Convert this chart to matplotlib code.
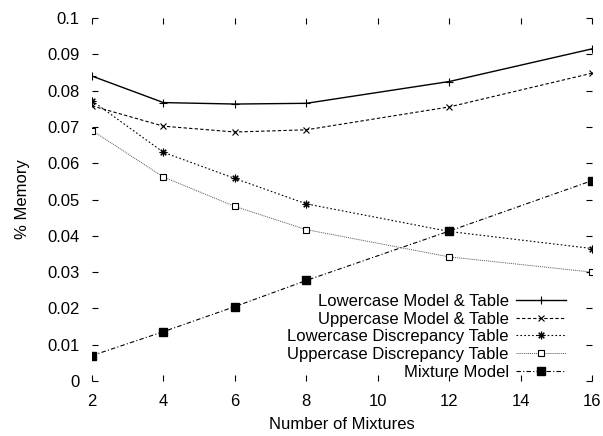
import matplotlib
matplotlib.use("Agg")
import matplotlib.pyplot as plt

plt.rcParams['font.family'] = ['Liberation Sans', 'DejaVu Sans']

mixtures = [2, 4, 6, 8, 12, 16]

lower_model = [0.0840, 0.0767, 0.0763, 0.0765, 0.0825, 0.0915]
upper_model = [0.0758, 0.0702, 0.0686, 0.0692, 0.0755, 0.0848]
lower_disc = [0.0772, 0.0630, 0.0558, 0.0488, 0.0412, 0.0365]
upper_disc = [0.0690, 0.0562, 0.0481, 0.0417, 0.0342, 0.0300]
mixture_model = [0.0070, 0.0136, 0.0205, 0.0277, 0.0413, 0.0552]

labels = ["Lowercase Model & Table", "Uppercase Model & Table",
          "Lowercase Discrepancy Table", "Uppercase Discrepancy Table",
          "Mixture Model"]

fs = 12

fig = plt.figure(figsize=(6.03, 4.36), dpi=100)
ax = fig.add_axes([0.1526, 0.1261, 0.8292, 0.8326])

ax.plot(mixtures, lower_model, color='black', lw=1.0, ls='-',
        marker='+', ms=6, mew=0.8, label=labels[0])
ax.plot(mixtures, upper_model, color='black', lw=0.8, ls=(0, (3, 2)),
        marker='x', ms=4.5, mew=0.8, label=labels[1])
ax.plot(mixtures, lower_disc, color='black', lw=0.8, ls=(0, (1.5, 2)),
        marker=(8, 2, 0), ms=5.5, mew=0.8, label=labels[2])
ax.plot(mixtures, upper_disc, color='#555555', lw=0.7, ls=(0, (1, 1)),
        marker='s', ms=5, mew=0.8, mfc='white', mec='black', label=labels[3])
ax.plot(mixtures, mixture_model, color='black', lw=0.8, ls=(0, (4, 2, 1, 2)),
        marker='s', ms=5.5, mfc='black', mec='black', label=labels[4])

ax.set_xlim(2, 16)
ax.set_ylim(0, 0.1)
ax.set_xticks(range(2, 17, 2))
ax.set_yticks([i / 100 for i in range(11)])
ax.set_yticklabels(['0'] + ['%g' % (i / 100) for i in range(1, 11)])

for s in ax.spines.values():
    s.set_visible(False)
ax.tick_params(direction='in', length=4, width=0.8, top=True, right=True,
               labelsize=fs, pad=9)

ax.set_xlabel("Number of Mixtures", fontsize=fs, labelpad=6)
ax.set_ylabel("% Memory", fontsize=fs, labelpad=12)

ax.legend(loc='lower right', bbox_to_anchor=(0.955, -0.005), markerfirst=False,
          frameon=False, fontsize=fs, handlelength=3.0, labelspacing=0.16,
          handletextpad=0.45, borderaxespad=0.0, borderpad=0.2)

fig.savefig("out.png", dpi=100)
